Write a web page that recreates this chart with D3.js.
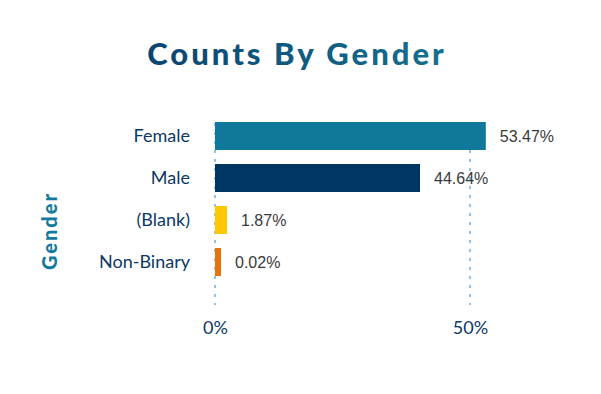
<!DOCTYPE html>
<html>

<head>
  <title>Counts By Gender</title>
  <style>
    body { margin: 0; background: #fff; }
  </style>
</head>

<body>
  <svg id="svg"></svg>

  <script src="https://d3js.org/d3.v7.min.js"></script>
  <script>
    // data
    let categories = ["Female", "Male", "(Blank)", "Non-Binary"];
    let pctLabels = ["53.47%", "44.64%", "1.87%", "0.02%"];
    let barValues = [53.1, 40.2, 2.35, 1.18]; // bar lengths as drawn, in % of axis
    let barColors = ["#0f789b", "#003662", "#ffc800", "#e8730f"];
    let tickValues = [0, 50];

    let width = 601, height = 394;
    let svg, xScale, yScale;

    function initialize() {
      svg = d3.select("#svg")
        .attr("width", width)
        .attr("height", height);

      xScale = d3.scaleLinear().domain([0, 50]).range([215, 470]);
      yScale = d3.scaleBand()
        .domain(categories)
        .range([115, 283])
        .paddingInner(1 / 3)
        .paddingOuter(1 / 6);
    }

    function draw() {
      let defs = svg.append("defs");
      let grad = defs.append("linearGradient")
        .attr("id", "titleGrad")
        .attr("x1", "0%").attr("x2", "100%");
      grad.append("stop").attr("offset", "0%").attr("stop-color", "#0b4470");
      grad.append("stop").attr("offset", "100%").attr("stop-color", "#15708f");

      // title
      svg.append("text")
        .attr("x", 297)
        .attr("y", 65)
        .attr("text-anchor", "middle")
        .attr("font-family", "Lato")
        .attr("font-weight", 900)
        .attr("font-size", 31)
        .attr("letter-spacing", 3)
        .attr("fill", "url(#titleGrad)")
        .text("Counts By Gender");

      // dotted gridlines
      svg.append("g")
        .selectAll("line")
        .data(tickValues)
        .join("line")
        .attr("x1", d => xScale(d))
        .attr("x2", d => xScale(d))
        .attr("y1", 123)
        .attr("y2", 305)
        .attr("stroke", "#8cc4ec")
        .attr("stroke-width", 2)
        .attr("stroke-dasharray", "3,6");

      // bars
      svg.append("g")
        .selectAll("rect")
        .data(categories)
        .join("rect")
        .attr("x", xScale(0))
        .attr("y", d => yScale(d))
        .attr("width", (d, i) => xScale(barValues[i]) - xScale(0))
        .attr("height", yScale.bandwidth())
        .attr("fill", (d, i) => barColors[i]);

      // value labels
      svg.append("g")
        .selectAll("text")
        .data(categories)
        .join("text")
        .attr("x", (d, i) => xScale(barValues[i]) + 14)
        .attr("y", d => yScale(d) + yScale.bandwidth() / 2)
        .attr("dy", "0.36em")
        .attr("font-family", "Liberation Sans")
        .attr("font-size", 16)
        .attr("fill", "#3a3a3a")
        .text((d, i) => pctLabels[i]);

      // category axis
      let yAxis = svg.append("g")
        .attr("transform", "translate(215,0)")
        .call(d3.axisLeft(yScale).tickSize(0).tickPadding(25));
      yAxis.select(".domain").remove();
      yAxis.selectAll("text")
        .attr("font-family", "Lato")
        .attr("font-size", 18)
        .attr("fill", "#0b3866");

      // value axis
      let xAxis = svg.append("g")
        .attr("transform", "translate(0,318)")
        .call(d3.axisBottom(xScale).tickValues(tickValues).tickSize(0).tickFormat(d => d + "%"));
      xAxis.select(".domain").remove();
      xAxis.selectAll("text")
        .attr("font-family", "Lato")
        .attr("font-size", 18)
        .attr("fill", "#0b3866");

      // axis title
      svg.append("text")
        .attr("transform", "translate(57,231) rotate(-90)")
        .attr("text-anchor", "middle")
        .attr("font-family", "Lato")
        .attr("font-weight", 900)
        .attr("font-size", 20)
        .attr("letter-spacing", 2)
        .attr("fill", "#137a9c")
        .text("Gender");
    }

    initialize();
    draw();
  </script>
</body>

</html>
